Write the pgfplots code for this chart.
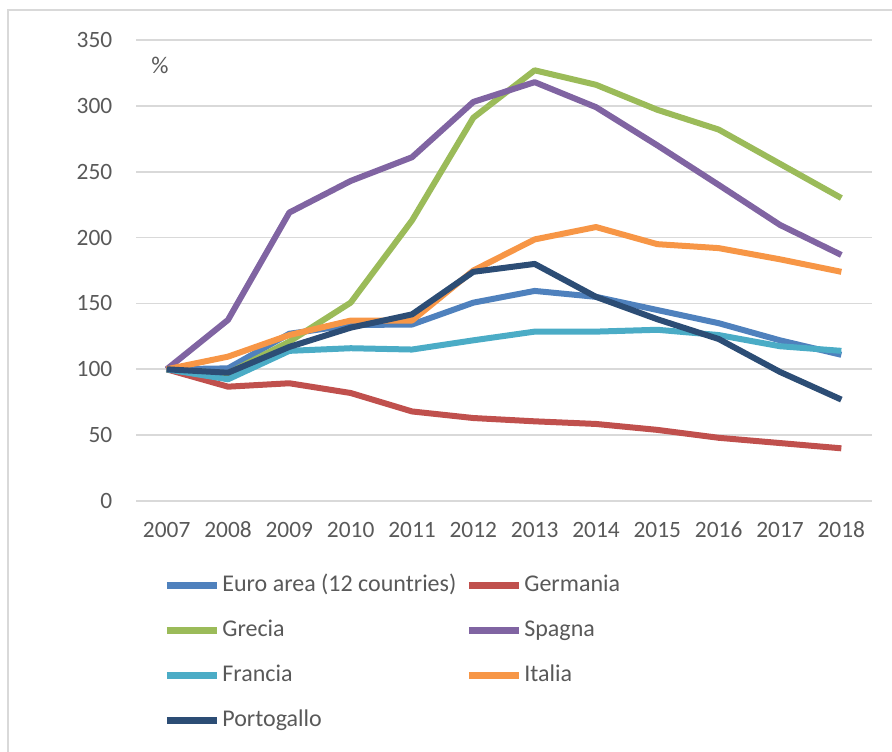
\documentclass[border=0pt]{standalone}
\usepackage{pgfplots}
\pgfplotsset{compat=1.18}
\usepackage{fontspec}
\setmainfont{Carlito}
\definecolor{cEuro}{HTML}{4F81BD}
\definecolor{cGer}{HTML}{C0504D}
\definecolor{cGre}{HTML}{9BBB59}
\definecolor{cSpa}{HTML}{8064A2}
\definecolor{cFra}{HTML}{4BACC6}
\definecolor{cIta}{HTML}{F79646}
\definecolor{cPor}{HTML}{2C4D75}
\definecolor{gridc}{HTML}{D9D9D9}
\definecolor{textc}{HTML}{595959}
\definecolor{framec}{HTML}{D9D9D9}
\begin{document}
\fontsize{11}{13}\selectfont
\begin{tikzpicture}
\useasboundingbox (-68pt,-125pt) rectangle (378pt,250.5pt);
\draw[color=framec, line width=1pt] (-64pt,-126pt) -- (-64pt,245.5pt) -- (379pt,245.5pt);
\begin{axis}[
  at={(0pt,0pt)}, anchor=south west,
  scale only axis, width=368pt, height=230.5pt,
  xmin=2006.5, xmax=2018.5, ymin=0, ymax=350,
  xtick={2007,2008,2009,2010,2011,2012,2013,2014,2015,2016,2017,2018},
  xticklabels={2007,2008,2009,2010,2011,2012,2013,2014,2015,2016,2017,2018},
  ytick={0,50,100,150,200,250,300,350},
  axis line style={draw=none},
  major tick length=0pt,
  ymajorgrids,
  grid style={color=gridc, line width=0.8pt},
  /pgf/number format/assume math mode=true,
  ticklabel style={color=textc, font=\fontsize{11.7}{13}\selectfont},
  yticklabel style={xshift=-8pt},
  xticklabel style={yshift=-6.5pt, text height=8pt, text depth=0pt},
  clip=false,
  legend columns=2,
  legend cell align=left,
  legend style={draw=none, fill=none, inner sep=0pt,
    at={(axis description cs:0,0)}, anchor=north west, xshift=13.5pt, yshift=-35.5pt,
    nodes={inner sep=1pt, text=textc, text height=8.5pt, text depth=2.5pt, font=\fontsize{12}{14}\selectfont},
    /tikz/every even column/.append style={column sep=3.5pt},
    /tikz/row sep=9.5pt},
  legend image code/.code={\draw[#1, line width=3.5pt] (0pt,0pt) -- (25pt,0pt);},
  every axis plot/.append style={line width=3pt, line join=round, mark=none},
]
\addplot[cEuro] coordinates {(2007,100) (2008,100.7) (2009,127) (2010,133.6) (2011,134) (2012,150.6) (2013,159.5) (2014,155) (2015,145) (2016,135) (2017,122) (2018,111)};
\addlegendentry{Euro area (12 countries)}
\addplot[cGer] coordinates {(2007,100) (2008,86.8) (2009,89.4) (2010,82) (2011,68) (2012,63) (2013,60.5) (2014,58.5) (2015,54) (2016,48) (2017,44) (2018,40)};
\addlegendentry{Germania}
\addplot[cGre] coordinates {(2007,100) (2008,97) (2009,121) (2010,150.6) (2011,213) (2012,291) (2013,327) (2014,316) (2015,297) (2016,282) (2017,256) (2018,230)};
\addlegendentry{Grecia}
\addplot[cSpa] coordinates {(2007,100) (2008,137.5) (2009,219) (2010,243) (2011,261) (2012,303) (2013,318) (2014,299) (2015,270) (2016,240) (2017,209.6) (2018,186.8)};
\addlegendentry{Spagna}
\addplot[cFra] coordinates {(2007,100) (2008,92.4) (2009,114) (2010,116) (2011,115) (2012,122) (2013,128.6) (2014,128.6) (2015,130) (2016,126) (2017,117.5) (2018,114)};
\addlegendentry{Francia}
\addplot[cIta] coordinates {(2007,100) (2008,109.6) (2009,126) (2010,137) (2011,137) (2012,175) (2013,198.6) (2014,208) (2015,195) (2016,192) (2017,183.5) (2018,174)};
\addlegendentry{Italia}
\addplot[cPor] coordinates {(2007,100) (2008,97.4) (2009,117) (2010,131.6) (2011,141.7) (2012,174) (2013,180) (2014,155) (2015,138) (2016,123) (2017,98) (2018,77)};
\addlegendentry{Portogallo}
\node[text=textc, font=\fontsize{12}{14}\selectfont] at (axis cs:2006.89,331) {\%};
\end{axis}
\end{tikzpicture}
\end{document}
